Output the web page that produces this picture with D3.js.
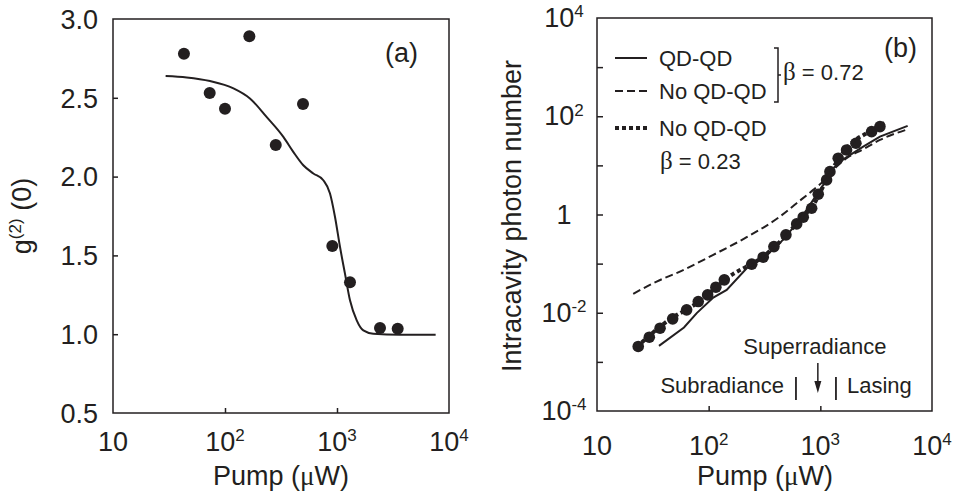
<!DOCTYPE html>
<html>
<head>
<meta charset="utf-8">
<script src="https://cdn.jsdelivr.net/npm/d3@7"></script>
<style>
  body { margin: 0; background: #fff; }
  svg { display: block; }
</style>
</head>
<body>
<svg id="chart" width="956" height="494"></svg>
<script>
const FONT = "'Liberation Sans', Arial, sans-serif";
const GREEK = "'Liberation Serif', 'Times New Roman', serif";
const INK = "#231f20";

// panel (a): g2(0) vs pump
const pumpA = [43, 73, 100, 165, 284, 497, 908, 1306, 2421, 3483];
const g2A = [2.78, 2.53, 2.43, 2.89, 2.20, 2.46, 1.56, 1.33, 1.04, 1.035];
const fitPumpA = [29.5, 45.5, 73.5, 119, 167, 235, 332, 407, 500, 615, 755, 866, 960, 1064, 1178, 1306, 1500, 1718, 2110, 3650, 7600];
const fitG2A = [2.638, 2.629, 2.606, 2.560, 2.496, 2.379, 2.252, 2.157, 2.072, 2.020, 1.977, 1.893, 1.744, 1.553, 1.384, 1.215, 1.088, 1.024, 1.003, 0.997, 0.997];

// panel (b): intracavity photon number vs pump
const pumpB = [23.4, 29.4, 36.7, 47.6, 63.5, 80.7, 97.9, 116, 138, 243, 308, 384, 492, 614, 703, 836, 958, 1138, 1219, 1446, 1718, 2083, 2878, 3418];
const photonB = [0.00206, 0.00318, 0.00485, 0.00752, 0.01146, 0.0169, 0.0231, 0.0331, 0.0467, 0.0975, 0.135, 0.222, 0.385, 0.644, 0.881, 1.34, 2.59, 5.06, 7.46, 14.0, 20.6, 28.2, 48.6, 61.5];

const pumpQD = [35.9, 60.1, 78.2, 110, 145, 219, 308, 435, 656, 864, 1062, 1306, 1603, 2421, 3418, 6053];
const photonQD = [0.00212, 0.00501, 0.00982, 0.0204, 0.0292, 0.0807, 0.129, 0.261, 0.776, 1.98, 4.0, 8.75, 13.3, 24.1, 38.5, 63.5];

const pumpNoQD = [21.1, 34.2, 55.3, 110, 219, 435, 614, 864, 1138, 1400, 1718, 2421, 3418, 6053];
const photonNoQD = [0.0243, 0.0432, 0.0690, 0.151, 0.345, 0.908, 1.70, 3.17, 5.48, 9.44, 14.0, 21.3, 33.0, 54.3];

const pumpLowBeta = [22.6, 42.1, 78.2, 166, 219, 308, 435, 656, 864, 1138, 1500, 1972, 2600, 3785];
const photonLowBeta = [0.00199, 0.00662, 0.01563, 0.0618, 0.0871, 0.139, 0.281, 0.776, 1.567, 5.06, 15.07, 30.5, 45.1, 74.1];

// tick labels
const xTicks = [10, 100, 1000, 10000];
const xTickLabels = [["10", ""], ["10", "2"], ["10", "3"], ["10", "4"]];
const yTicksA = [0.5, 1.0, 1.5, 2.0, 2.5, 3.0];
const yTicksB = [1e-4, 1e-2, 1, 1e2, 1e4];
const yTickLabelsB = [["10", "-4"], ["10", "-2"], ["1", ""], ["10", "2"], ["10", "4"]];
const yMinorB = [1e-4, 1e-3, 1e-2, 1e-1, 1, 1e1, 1e2, 1e3, 1e4];

// regime markers (pump values)
const regimeBars = [605, 1380];
const superPump = 950;

const svg = d3.select("#chart");
svg.append("rect").attr("width", 956).attr("height", 494).attr("fill", "#fff");

function supText(g, x, y, parts, anchor, size) {
  const t = g.append("text").attr("x", x).attr("y", y)
    .attr("text-anchor", anchor).attr("font-family", FONT)
    .attr("font-size", size).attr("fill", INK);
  t.append("tspan").text(parts[0]);
  if (parts[1]) t.append("tspan").attr("dy", -size * 0.36).attr("font-size", size * 0.63).text(parts[1]);
  return t;
}

function frame(x, y) {
  const [x0, x1] = x.range(), [y0, y1] = y.range();
  svg.append("rect").attr("x", x0).attr("y", y1).attr("width", x1 - x0).attr("height", y0 - y1)
    .attr("fill", "none").attr("stroke", INK).attr("stroke-width", 1.5);
}

function tickLines(axis, transform) {
  const g = svg.append("g").attr("transform", transform).call(axis);
  g.select(".domain").remove();
  g.selectAll(".tick line").attr("stroke", INK).attr("stroke-width", 1.5);
}

// ---------- panel (a)
const xA = d3.scaleLog().domain([10, 1e4]).range([113, 449]);
const yA = d3.scaleLinear().domain([0.5, 3.0]).range([413, 19]);

frame(xA, yA);
tickLines(d3.axisBottom(xA).tickValues([100, 1000]).tickSize(-5).tickFormat(""), "translate(0,413)");
tickLines(d3.axisLeft(yA).tickValues([1.0, 1.5, 2.0, 2.5]).tickSize(-5).tickFormat(""), "translate(113,0)");

yTicksA.forEach(v => {
  svg.append("text").attr("x", 98).attr("y", yA(v)).attr("dy", "0.36em")
    .attr("text-anchor", "end").attr("font-family", FONT).attr("font-size", 27)
    .attr("fill", INK).text(d3.format(".1f")(v));
});
xTicks.forEach((v, i) => supText(svg, xA(v), 451, xTickLabels[i], "middle", 27));

svg.append("path")
  .datum(fitPumpA.map((p, i) => [p, fitG2A[i]]))
  .attr("fill", "none").attr("stroke", INK).attr("stroke-width", 2)
  .attr("d", d3.line().x(d => xA(d[0])).y(d => yA(d[1])).curve(d3.curveMonotoneX));

svg.append("g").selectAll("circle")
  .data(pumpA.map((p, i) => [p, g2A[i]]))
  .join("circle")
  .attr("cx", d => xA(d[0])).attr("cy", d => yA(d[1])).attr("r", 6).attr("fill", INK);

svg.append("text").attr("x", 385).attr("y", 62).attr("font-family", FONT)
  .attr("font-size", 27).attr("fill", INK).text("(a)");

const titleA = svg.append("text").attr("transform", "translate(31,216) rotate(-90)")
  .attr("text-anchor", "middle").attr("font-family", FONT).attr("font-size", 27).attr("fill", INK);
titleA.append("tspan").text("g");
titleA.append("tspan").attr("dy", -10).attr("font-size", 17).text("(2)");
titleA.append("tspan").attr("dy", 10).text(" (0)");

const pumpTitle = (cx) => {
  const t = svg.append("text").attr("x", cx).attr("y", 485).attr("text-anchor", "middle")
    .attr("font-family", FONT).attr("font-size", 27).attr("fill", INK);
  t.append("tspan").text("Pump (");
  t.append("tspan").attr("font-family", GREEK).text("μ");
  t.append("tspan").text("W)");
};
pumpTitle(281);

// ---------- panel (b)
const xB = d3.scaleLog().domain([10, 1e4]).range([597, 932]);
const yB = d3.scaleLog().domain([1e-4, 1e4]).range([411, 18]);

frame(xB, yB);
tickLines(d3.axisBottom(xB).tickValues([100, 1000]).tickSize(-5).tickFormat(""), "translate(0,411)");
tickLines(d3.axisLeft(yB).tickValues(yMinorB.slice(1, -1)).tickSize(-6).tickFormat(""), "translate(597,0)");

yTicksB.forEach((v, i) => supText(svg, 564, yB(v) + 9, yTickLabelsB[i], "middle", 27));
xTicks.forEach((v, i) => supText(svg, xB(v), 455, xTickLabels[i], "middle", 27));

const lineB = d3.line().x(d => xB(d[0])).y(d => yB(d[1]));

svg.append("path")
  .datum(pumpNoQD.map((p, i) => [p, photonNoQD[i]]))
  .attr("fill", "none").attr("stroke", INK).attr("stroke-width", 2)
  .attr("stroke-dasharray", "8 4")
  .attr("d", lineB.curve(d3.curveMonotoneX));

svg.append("g").selectAll("circle")
  .data(pumpB.map((p, i) => [p, photonB[i]]))
  .join("circle")
  .attr("cx", d => xB(d[0])).attr("cy", d => yB(d[1])).attr("r", 5.8).attr("fill", INK);

svg.append("path")
  .datum(pumpLowBeta.map((p, i) => [p, photonLowBeta[i]]))
  .attr("fill", "none").attr("stroke", INK).attr("stroke-width", 4)
  .attr("stroke-dasharray", "4 3")
  .attr("d", lineB.curve(d3.curveMonotoneX));

svg.append("path")
  .datum(pumpQD.map((p, i) => [p, photonQD[i]]))
  .attr("fill", "none").attr("stroke", INK).attr("stroke-width", 2)
  .attr("d", lineB.curve(d3.curveLinear));

svg.append("text").attr("x", 884).attr("y", 57).attr("font-family", FONT)
  .attr("font-size", 27).attr("fill", INK).text("(b)");

svg.append("text").attr("transform", "translate(521,216) rotate(-90)")
  .attr("text-anchor", "middle").attr("font-family", FONT).attr("font-size", 27)
  .attr("fill", INK).text("Intracavity photon number");
pumpTitle(765);

// legend
const leg = svg.append("g").attr("font-family", FONT).attr("font-size", 22).attr("fill", INK);
const legRows = [
  { y: 58, dash: null, w: 2, label: "QD-QD" },
  { y: 91, dash: "8 4", w: 2, label: "No QD-QD" },
  { y: 128, dash: "4 3", w: 4, label: "No QD-QD" }
];
legRows.forEach(r => {
  leg.append("line").attr("x1", 615).attr("x2", 647).attr("y1", r.y).attr("y2", r.y)
    .attr("stroke", INK).attr("stroke-width", r.w).attr("stroke-dasharray", r.dash);
  leg.append("text").attr("x", 659).attr("y", r.y + 8).text(r.label);
});
leg.append("path").attr("d", "M774,48H778V102H774M778,75H781")
  .attr("fill", "none").attr("stroke", INK).attr("stroke-width", 1.5);
const b1 = leg.append("text").attr("x", 783).attr("y", 80);
b1.append("tspan").attr("font-family", GREEK).attr("font-size", 25).text("β");
b1.append("tspan").text(" = 0.72");
const b2 = leg.append("text").attr("x", 660).attr("y", 169);
b2.append("tspan").attr("font-family", GREEK).attr("font-size", 25).text("β");
b2.append("tspan").text(" = 0.23");

// regimes
const ann = svg.append("g").attr("font-family", FONT).attr("font-size", 22).attr("fill", INK);
ann.append("text").attr("x", xB(superPump)).attr("y", 354).attr("text-anchor", "middle").attr("dx", -3).text("Superradiance");
ann.append("text").attr("x", xB(regimeBars[0]) - 12).attr("y", 393).attr("text-anchor", "end").text("Subradiance");
ann.append("text").attr("x", xB(regimeBars[1]) + 11).attr("y", 393).text("Lasing");
regimeBars.forEach(p => {
  ann.append("line").attr("x1", xB(p)).attr("x2", xB(p)).attr("y1", 377).attr("y2", 400)
    .attr("stroke", INK).attr("stroke-width", 1.8);
});
const ax = xB(superPump);
ann.append("line").attr("x1", ax).attr("x2", ax).attr("y1", 363).attr("y2", 383)
  .attr("stroke", INK).attr("stroke-width", 1.5);
ann.append("path").attr("d", `M${ax - 3.5},381L${ax + 3.5},381L${ax},393Z`).attr("fill", INK);
</script>
</body>
</html>
